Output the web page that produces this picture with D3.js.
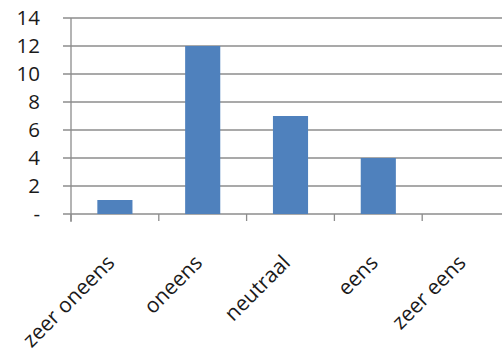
<!DOCTYPE html>
<html><head><meta charset="utf-8">
<script src="https://cdn.jsdelivr.net/npm/d3@7"></script>
<style>body{margin:0;background:#fff;}svg{display:block;}</style>
</head><body>
<script>
const categories = ["zeer oneens", "oneens", "neutraal", "eens", "zeer eens"];
const values = [1, 12, 7, 4, 0];
const yTicks = [0, 2, 4, 6, 8, 10, 12, 14];
const yTickLabels = ["-", "2", "4", "6", "8", "10", "12", "14"];

(function () {
const W = 502, H = 352;
const mLeft = 71, mRight = 510, mTop = 18, mBottom = 214;
const font = "'Open Sans', sans-serif";

const svg = d3.select("body").append("svg").attr("width", W).attr("height", H);

const x = d3.scaleBand().domain(categories).range([mLeft, mRight]).paddingInner(0.6).paddingOuter(0.3);
const y = d3.scaleLinear().domain([0, 14]).range([mBottom, mTop]);

// gridlines
svg.append("g").selectAll("line").data(yTicks).join("line")
  .attr("x1", mLeft - 8).attr("x2", mRight)
  .attr("y1", d => y(d)).attr("y2", d => y(d))
  .attr("stroke", "#8c8c8c").attr("stroke-width", 1.3);

// y axis line
svg.append("line").attr("x1", mLeft).attr("x2", mLeft).attr("y1", mTop).attr("y2", mBottom + 8)
  .attr("stroke", "#8c8c8c").attr("stroke-width", 1.3);

// category separator ticks
const step = x.step();
const sepX = d3.range(categories.length).map(i => x(categories[i]) - (step - x.bandwidth()) / 2);
svg.append("g").selectAll("line").data(sepX).join("line")
  .attr("x1", d => d).attr("x2", d => d).attr("y1", mBottom).attr("y2", mBottom + 7)
  .attr("stroke", "#8c8c8c").attr("stroke-width", 1.3);

// y tick labels
svg.append("g").selectAll("text").data(yTicks).join("text")
  .attr("x", 40).attr("y", d => y(d)).attr("dy", "0.36em")
  .attr("text-anchor", "end").attr("font-family", font).attr("font-size", 20.5)
  .attr("fill", "#1a1a1a").text((d, i) => yTickLabels[i]);

// bars
svg.append("g").selectAll("rect").data(values).join("rect")
  .attr("x", (d, i) => x(categories[i])).attr("width", x.bandwidth())
  .attr("y", d => y(d)).attr("height", d => y(0) - y(d))
  .attr("fill", "#4f81bd");

// x labels
svg.append("g").selectAll("text").data(categories).join("text")
  .attr("transform", d => `translate(${x(d) + x.bandwidth() / 2 + 1},${mBottom + 50}) rotate(-45)`)
  .attr("text-anchor", "end").attr("font-family", font).attr("font-size", 21)
  .attr("fill", "#1a1a1a").text(d => d);
})();
</script>
</body></html>
